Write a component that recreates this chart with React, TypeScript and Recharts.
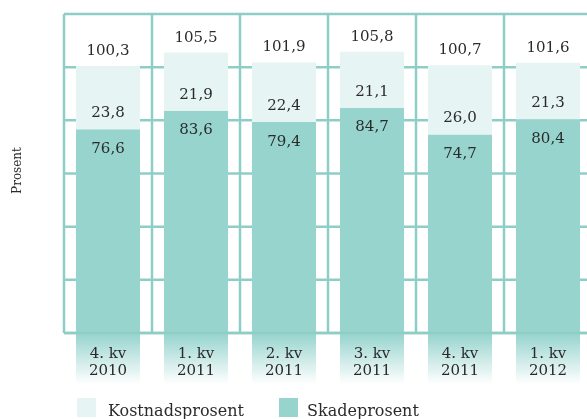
import React from 'react';
import { BarChart, Bar, XAxis, YAxis, CartesianGrid, LabelList, Legend } from 'recharts';

const categories = ['4. kv|2010', '1. kv|2011', '2. kv|2011', '3. kv|2011', '4. kv|2011', '1. kv|2012'];
const skadeprosent = [76.6, 83.6, 79.4, 84.7, 74.7, 80.4];
const kostnadsprosent = [23.8, 21.9, 22.4, 21.1, 26.0, 21.3];
const totals = [100.3, 105.5, 101.9, 105.8, 100.7, 101.6];
const yTicks = [0, 20, 40, 60, 80, 100, 120];

const data = categories.map((c, i) => ({
  cat: c,
  skade: skadeprosent[i],
  kostnad: kostnadsprosent[i],
  total: totals[i],
}));

const TEAL = '#97d4ce';
const LIGHT = '#e6f4f3';
const GRID = '#8fcdc7';
const TEXT = '#2b2b2b';
const FONT = '"DejaVu Serif", serif';

const fmt = (v: any) => Number(v).toFixed(1).replace('.', ',');

// vertical grid lines at the category band boundaries
const bandBoundaries = ({ offset }: any) =>
  Array.from({ length: categories.length + 1 }, (_, i) => offset.left + (i * offset.width) / categories.length);

const XTick = (props: any) => {
  const { x, y, payload, index } = props;
  const [l1, l2] = String(payload.value).split('|');
  const id = `fade${index}`;
  return (
    <g>
      <defs>
        <linearGradient id={id} x1="0" y1="0" x2="0" y2="1">
          <stop offset="0%" stopColor={TEAL} stopOpacity={1} />
          <stop offset="100%" stopColor={TEAL} stopOpacity={0} />
        </linearGradient>
      </defs>
      <rect x={x - 32} y={y + 1} width={64} height={50} fill={`url(#${id})`} />
      <text x={x} y={y + 25} textAnchor="middle" fontSize={15} fontFamily={FONT} fill={TEXT}>{l1}</text>
      <text x={x} y={y + 42} textAnchor="middle" fontSize={15} fontFamily={FONT} fill={TEXT}>{l2}</text>
    </g>
  );
};

const EmptyTick = () => null;

const YLabel = (props: any) => {
  const vb = props.viewBox || { x: 0, y: 6, width: 56, height: 319 };
  const cx = vb.x + 9;
  const cy = vb.y + vb.height / 2 - 3;
  return (
    <text x={cx} y={cy} transform={`rotate(-90 ${cx} ${cy})`} textAnchor="middle" dominantBaseline="central"
      fontSize={12} fontFamily={FONT} fill={TEXT}>Prosent</text>
  );
};

const LegendContent = () => (
  <div style={{ position: 'relative', height: 24, fontFamily: FONT, fontSize: 16, color: TEXT }}>
    <span style={{ position: 'absolute', left: 69, top: 3, width: 19, height: 19, background: LIGHT }} />
    <span style={{ position: 'absolute', left: 100, top: 8, lineHeight: '16px', whiteSpace: 'nowrap' }}>Kostnadsprosent</span>
    <span style={{ position: 'absolute', left: 271, top: 3, width: 19, height: 19, background: TEAL }} />
    <span style={{ position: 'absolute', left: 299, top: 8, lineHeight: '16px', whiteSpace: 'nowrap' }}>Skadeprosent</span>
  </div>
);

const labelStyle = { fill: TEXT, fontSize: 15, fontFamily: FONT };

export default function App() {
  return (
    <div style={{ position: 'fixed', left: 8, top: 8, width: 579, height: 411, overflow: 'hidden' }}>
      <BarChart width={600} height={411} data={data} margin={{ top: 6, right: 16, bottom: 0, left: 0 }} barSize={64}>
        <CartesianGrid stroke={GRID} strokeWidth={2.5} fill="none" verticalCoordinatesGenerator={bandBoundaries} />
        <XAxis dataKey="cat" height={62} tickLine={false} tickSize={0} tickMargin={0} interval={0}
          axisLine={{ stroke: GRID, strokeWidth: 2.5 }} tick={<XTick />} />
        <YAxis width={56} domain={[0, 120]} ticks={yTicks} interval={0} tick={<EmptyTick />} axisLine={false} tickLine={false}
          label={<YLabel />} />
        <Legend content={<LegendContent />} />
        <Bar dataKey="skade" stackId="a" fill={TEAL} isAnimationActive={false}>
          <LabelList dataKey="skade" position="insideTop" offset={13} formatter={fmt} {...labelStyle} />
        </Bar>
        <Bar dataKey="kostnad" stackId="a" fill={LIGHT} isAnimationActive={false}>
          <LabelList dataKey="kostnad" position="insideBottom" offset={12} formatter={fmt} {...labelStyle} />
          <LabelList dataKey="total" position="top" offset={11} formatter={fmt} {...labelStyle} />
        </Bar>
      </BarChart>
    </div>
  );
}
